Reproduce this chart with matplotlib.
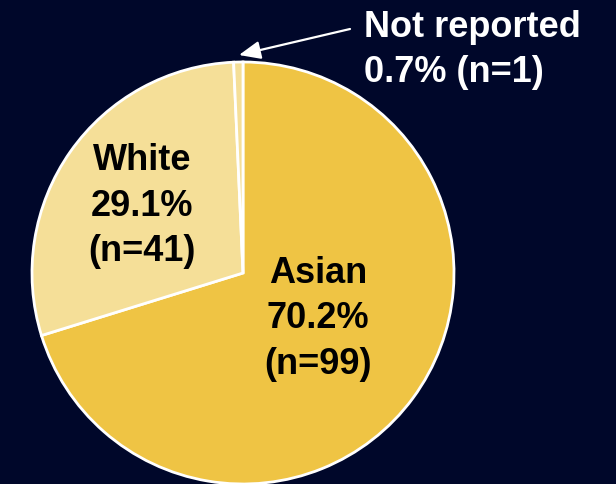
import matplotlib
matplotlib.use("Agg")
import matplotlib.pyplot as plt

# survey respondents by race
labels = ["Asian", "White", "Not reported"]
counts = [99, 41, 1]
percents = [70.2, 29.1, 0.7]
colors = ["#EFC444", "#F5DF98", "#F5DF98"]

bg = "#00072A"

plt.rcParams["font.family"] = ["Liberation Sans", "DejaVu Sans"]

fig = plt.figure(figsize=(6.16, 4.84), dpi=100, facecolor=bg)
ax = fig.add_axes([0, 0, 1, 1])
ax.set_facecolor(bg)

# pie centre / radius in pixels, used to lay out the axes limits
cx, cy, r = 243, 273, 211


def px(x, y):
    return (x - cx) / r, (cy - y) / r


ax.pie(counts, colors=colors, startangle=90, counterclock=False,
       radius=1.0, wedgeprops=dict(edgecolor="white", linewidth=2.0))
ax.set_aspect("auto")
ax.set_xlim(-cx / r, (616 - cx) / r)
ax.set_ylim(-(484 - cy) / r, cy / r)
ax.axis("off")

font = dict(fontsize=26, fontweight="bold", ha="center", va="center",
            linespacing=1.38)

ax.text(*px(318, 319), f"{labels[0]}\n{percents[0]}%\n(n={counts[0]})",
        color="black", **font)
ax.text(*px(142, 206), f"{labels[1]}\n{percents[1]}%\n(n={counts[1]})",
        color="black", **font)

ax.text(*px(364, 50), f"{labels[2]}\n{percents[2]}% (n={counts[2]})",
        color="white", fontsize=26, fontweight="bold",
        ha="left", va="center", linespacing=1.38)
ax.annotate("", xy=px(239, 55), xytext=px(350, 29),
            arrowprops=dict(arrowstyle="-|>,head_length=1.3,head_width=0.55",
                            color="white", lw=1.6, shrinkA=0, shrinkB=0))

fig.savefig("out.png", dpi=100, facecolor=bg)
